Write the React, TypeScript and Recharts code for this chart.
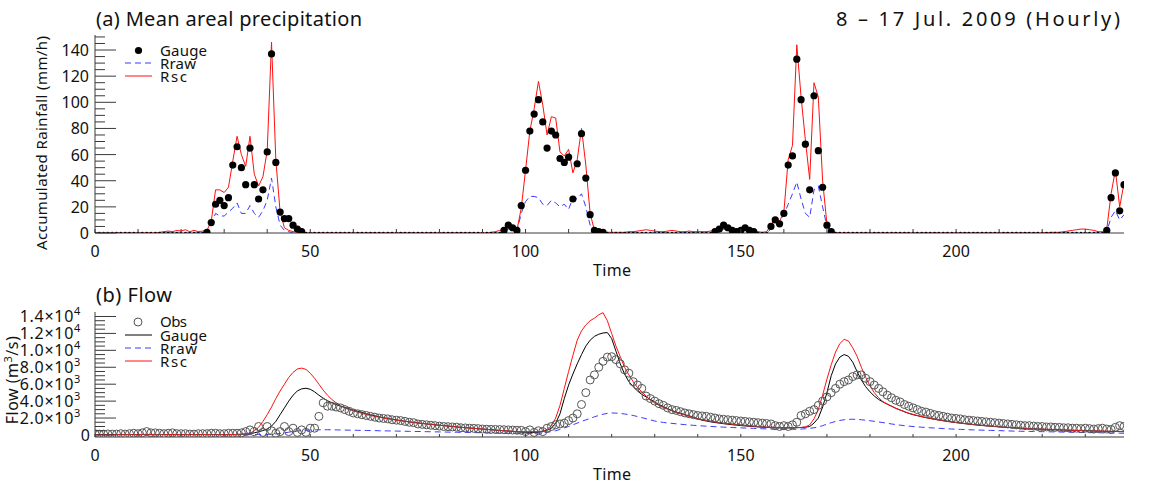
import React from 'react';
import { ComposedChart, Line, Scatter, XAxis, YAxis } from 'recharts';

const FONT = '"Noto Sans", "DejaVu Sans", sans-serif';
const AXIS = '#3a3a3a';

// hourly time index, 8 Jul 00h .. 17 Jul 23h
const hours: number[] = Array.from({ length: 240 }, (_, i) => i);

// (a) mean areal precipitation (mm/h)
const rainGauge = [
  0, 0, 0, 0, 0, 0, 0, 0, 0, 0,
  0, 0, 0, 0, 0, 0, 0, 0, 0, 0,
  0, 0, 0, 0, 0, 0, 0.5, 8, 22, 25,
  21, 27, 52, 66, 50, 37, 65, 37, 26, 33,
  62, 137, 54, 16, 11, 11, 6, 3, 1, 0,
  0, 0, 0, 0, 0, 0, 0, 0, 0, 0,
  0, 0, 0, 0, 0, 0, 0, 0, 0, 0,
  0, 0, 0, 0, 0, 0, 0, 0, 0, 0,
  0, 0, 0, 0, 0, 0, 0, 0, 0, 0,
  0, 0, 0, 0, 0, 2, 6, 4, 2, 21,
  48, 78, 91, 102, 85, 65, 78, 75, 57, 54,
  58, 26, 53, 76, 42, 14, 2, 1, 0.5, 0,
  0, 0, 0, 0, 0, 0, 0, 0, 0, 0,
  0, 0, 0, 0, 0, 0, 0, 0, 0, 0,
  0, 0, 0, 0, 1, 3, 6, 4, 2, 1,
  2, 4, 2, 1, 0, 0, 0, 5, 10, 7,
  15, 52, 59, 133, 102, 68, 33, 105, 63, 35,
  6, 1, 0, 0, 0, 0, 0, 0, 0, 0,
  0, 0, 0, 0, 0, 0, 0, 0, 0, 0,
  0, 0, 0, 0, 0, 0, 0, 0, 0, 0,
  0, 0, 0, 0, 0, 0, 0, 0, 0, 0,
  0, 0, 0, 0, 0, 0, 0, 0, 0, 0,
  0, 0, 0, 0, 0, 0, 0, 0, 0, 0,
  0, 0, 0, 0, 0, 2, 27, 46, 17, 37,
];

const rainRraw = [
  0, 0, 0, 0, 0, 0, 0, 0, 0, 0,
  0, 0, 0, 0, 0, 0, 0, 0, 0, 0,
  0, 0, 0, 0, 0, 0, 0.5, 7, 15, 13,
  13, 16, 19, 23, 15, 15, 21, 15, 12, 17,
  25, 42, 20, 6, 2, 1, 0, 0, 0, 0,
  0, 0, 0, 0, 0, 0, 0, 0, 0, 0,
  0, 0, 0, 0, 0, 0, 0, 0, 0, 0,
  0, 0, 0, 0, 0, 0, 0, 0, 0, 0,
  0, 0, 0, 0, 0, 0, 0, 0, 0, 0,
  0, 0, 0, 0, 0, 1, 3, 2, 1, 15,
  24, 28, 28, 27, 22, 21, 25, 23, 20, 22,
  18, 27, 26, 30, 20, 6, 1, 0, 0, 0,
  0, 0, 0, 0, 0, 0, 0, 0, 0, 0,
  0, 0, 0, 0, 0, 0, 0, 0, 0, 0,
  0, 0, 0, 0, 0.5, 1, 3, 2, 1, 0.5,
  1.5, 2, 1, 0, 0, 0, 0, 3, 6, 8,
  14, 22, 30, 39, 26, 15, 12, 33, 36, 20,
  5, 1, 0, 0, 0, 0, 0, 0, 0, 0,
  0, 0, 0, 0, 0, 0, 0, 0, 0, 0,
  0, 0, 0, 0, 0, 0, 0, 0, 0, 0,
  0, 0, 0, 0, 0, 0, 0, 0, 0, 0,
  0, 0, 0, 0, 0, 0, 0, 0, 0, 0,
  0, 0, 0, 0, 0, 0, 0, 0, 0, 0,
  0, 0, 0, 0, 0, 1, 12, 17, 10, 14,
];

const rainRsc = [
  0, 0, 0, 0, 0, 0, 0, 0, 0, 0,
  0, 0, 0, 0, 0, 0.5, 1, 1.5, 1, 2,
  1.5, 2.5, 1, 2, 1, 1.5, 2, 9, 33, 33,
  31, 35, 55, 74, 60, 51, 74, 45, 36, 43,
  63, 146, 56, 16, 4, 2, 1, 0.5, 0, 0,
  0, 0, 0, 0, 0, 0, 0, 0, 0, 0,
  0, 0, 0, 0, 0, 0, 0, 0, 0, 0,
  0, 0, 0, 0, 0, 0, 0, 0, 0, 0,
  0, 0, 0, 0, 0, 0, 0, 0, 0, 0,
  0, 0, 0.5, 1, 2, 3, 6, 3, 2, 19,
  48, 78, 95, 116, 98, 75, 89, 88, 62, 59,
  64, 46, 56, 80, 52, 15, 2, 1, 0.5, 0.5,
  0.5, 0.5, 0.5, 0.5, 1, 1, 1.5, 2, 2.5, 2,
  1.5, 1, 1, 1.5, 2, 1.5, 1, 1, 1.5, 1,
  1, 1, 1, 1.5, 2, 4, 7, 5, 3, 2,
  3, 5, 2, 1, 1, 0.5, 1, 6, 12, 9,
  16, 56, 67, 144, 104, 71, 41, 115, 104, 40,
  7, 1, 0.5, 0, 0, 0, 0, 0, 0, 0,
  0, 0, 0, 0, 0, 0, 0, 0, 0, 0,
  0, 0, 0, 0, 0, 0, 0, 0, 0, 0,
  0, 0, 0, 0, 0, 0, 0, 0, 0, 0,
  0, 0, 0, 0, 0, 0, 0, 0, 0, 0,
  0, 0, 0.5, 0.5, 0.5, 1, 1.5, 2, 2.5, 3,
  3, 2.5, 2, 1, 1, 3, 30, 48, 20, 38,
];

// (b) flow (m3/s)
const flowObs = [
  150, 100, 100, 120, 100, 100, 150, 100, 150, 200,
  150, 250, 400, 250, 250, 200, 150, 200, 250, 150,
  150, 150, 100, 100, 150, 150, 150, 200, 200, 150,
  150, 200, 200, 200, 250, 400, 600, 400, 1000, 300,
  1000, 500, 200, 400, 1000, 400, 800, 300, 600, 300,
  800, 800, 2200, 3800, 3400, 3400, 3300, 3200, 3000, 2800,
  2600, 2500, 2400, 2300, 2200, 2100, 2000, 1950, 1900, 1800,
  1750, 1700, 1600, 1500, 1450, 1300, 1250, 1200, 1150, 1100,
  1050, 1000, 980, 950, 920, 850, 830, 800, 780, 750,
  700, 680, 660, 650, 640, 620, 600, 580, 560, 550,
  400, 600, 300, 500, 400, 800, 1000, 1200, 1300, 1400,
  1700, 2000, 2500, 3600, 5000, 6500, 7100, 8000, 8700, 9200,
  9250, 8900, 8400, 7700, 7300, 6300, 5900, 5500, 4600, 4300,
  4000, 3700, 3500, 3200, 3000, 2900, 2750, 2600, 2500, 2400,
  2300, 2250, 2200, 2100, 2000, 1900, 1850, 1800, 1750, 1700,
  1650, 1600, 1550, 1500, 1450, 1400, 1350, 1300, 1100, 1000,
  1100, 1000, 1200, 1500, 2300, 2500, 2800, 3000, 3500, 4000,
  4500, 5000, 5500, 6000, 6300, 6500, 6900, 7100, 7100, 6700,
  6300, 5900, 5500, 5100, 4700, 4400, 4100, 3900, 3600, 3400,
  3200, 3000, 2800, 2700, 2550, 2400, 2300, 2200, 2100, 2000,
  1950, 1900, 1800, 1750, 1700, 1650, 1600, 1550, 1500, 1450,
  1400, 1350, 1300, 1250, 1200, 1150, 1100, 1100, 1050, 1000,
  1000, 950, 950, 900, 900, 850, 850, 800, 800, 750,
  800, 750, 700, 750, 800, 700, 650, 900, 1100, 1000,
];

const flowGauge = [
  50, 50, 50, 50, 50, 50, 50, 50, 50, 50,
  50, 50, 50, 50, 50, 50, 50, 50, 50, 50,
  50, 50, 50, 50, 50, 50, 50, 50, 50, 50,
  50, 50, 50, 60, 80, 110, 150, 250, 380, 520,
  700, 1050, 1600, 2400, 3200, 4000, 4700, 5200, 5450, 5520,
  5400, 5100, 4700, 4350, 4050, 3800, 3600, 3420, 3250, 3100,
  2950, 2800, 2650, 2500, 2380, 2260, 2150, 2050, 1950, 1860,
  1780, 1700, 1620, 1550, 1480, 1420, 1360, 1300, 1250, 1200,
  1150, 1100, 1050, 1000, 950, 900, 860, 820, 780, 740,
  700, 660, 620, 580, 540, 500, 460, 420, 380, 340,
  300, 290, 290, 320, 420, 560, 800, 1400, 2500, 4300,
  5900, 7200, 8400, 9500, 10500, 11200, 11650, 11900, 12050, 12100,
  11400, 9900, 8400, 7200, 6300, 5700, 5200, 4800, 4500, 4200,
  3900, 3600, 3350, 3100, 2900, 2700, 2550, 2400, 2250, 2100,
  1900, 1750, 1650, 1550, 1470, 1400, 1330, 1270, 1210, 1160,
  1110, 1070, 1030, 990, 950, 920, 890, 870, 850, 840,
  830, 830, 840, 860, 880, 920, 1000, 1400, 2000, 3300,
  5000, 7000, 8400, 9200, 9500, 9300, 8600, 7500, 6500, 5700,
  5100, 4600, 4200, 3900, 3650, 3400, 3150, 2950, 2750, 2550,
  2400, 2280, 2160, 2050, 1950, 1850, 1760, 1680, 1600, 1530,
  1460, 1400, 1340, 1280, 1220, 1170, 1120, 1080, 1040, 1000,
  960, 920, 890, 860, 830, 800, 770, 740, 720, 700,
  680, 660, 640, 620, 600, 580, 560, 545, 530, 515,
  500, 485, 470, 455, 440, 430, 420, 410, 400, 390,
];

const flowRraw = [
  30, 30, 30, 30, 30, 30, 30, 30, 30, 30,
  30, 30, 30, 30, 30, 30, 30, 30, 30, 30,
  30, 30, 30, 30, 30, 30, 30, 30, 30, 30,
  30, 30, 30, 30, 30, 30, 40, 50, 60, 70,
  80, 100, 130, 180, 250, 330, 410, 470, 510, 550,
  580, 600, 610, 620, 620, 610, 600, 590, 580, 570,
  560, 550, 540, 530, 520, 510, 500, 490, 480, 470,
  460, 450, 440, 430, 420, 410, 400, 390, 380, 370,
  360, 350, 340, 330, 320, 310, 300, 290, 280, 270,
  260, 250, 240, 230, 220, 210, 200, 200, 200, 200,
  210, 210, 220, 240, 270, 320, 390, 500, 650, 830,
  1000, 1200, 1400, 1600, 1780, 1950, 2150, 2300, 2450, 2550,
  2600, 2580, 2550, 2480, 2400, 2300, 2180, 2050, 1920, 1780,
  1650, 1560, 1480, 1420, 1370, 1320, 1270, 1220, 1180, 1140,
  1100, 1070, 1040, 1010, 980, 950, 925, 900, 880, 860,
  840, 820, 800, 780, 760, 740, 720, 700, 690, 680,
  670, 670, 670, 680, 700, 730, 780, 850, 950, 1100,
  1280, 1450, 1600, 1720, 1800, 1850, 1860, 1840, 1800, 1740,
  1680, 1610, 1540, 1460, 1380, 1300, 1230, 1160, 1100, 1050,
  1000, 960, 920, 880, 850, 820, 790, 760, 730, 700,
  680, 660, 640, 620, 600, 585, 570, 555, 540, 525,
  510, 495, 480, 465, 450, 440, 430, 420, 410, 400,
  390, 380, 370, 360, 350, 340, 330, 320, 310, 300,
  290, 280, 270, 260, 250, 240, 230, 220, 210, 200,
];

const flowRsc = [
  50, 50, 50, 50, 50, 50, 50, 50, 50, 50,
  50, 50, 50, 50, 50, 50, 50, 50, 50, 50,
  50, 50, 50, 50, 50, 50, 50, 50, 50, 50,
  50, 50, 50, 60, 80, 120, 200, 500, 900, 1600,
  2400, 3300, 4300, 5200, 6000, 6800, 7400, 7800, 7900, 7750,
  7300, 6700, 6000, 5300, 4700, 4200, 3800, 3450, 3200, 3000,
  2850, 2700, 2550, 2420, 2300, 2190, 2090, 2000, 1910, 1830,
  1750, 1680, 1610, 1540, 1480, 1420, 1360, 1300, 1250, 1200,
  1150, 1100, 1050, 1000, 950, 900, 860, 820, 780, 740,
  700, 660, 620, 580, 540, 500, 470, 440, 410, 400,
  390, 390, 390, 400, 450, 650, 1100, 2000, 3500, 5500,
  7500, 9400, 11200, 12300, 13000, 13500, 13800, 14200, 14450, 13500,
  12000, 10500, 9250, 8000, 7100, 6300, 5600, 5100, 4600, 4100,
  3800, 3500, 3250, 3050, 2850, 2650, 2500, 2350, 2200, 2050,
  1900, 1800, 1700, 1610, 1530, 1460, 1390, 1330, 1270, 1220,
  1170, 1120, 1080, 1040, 1000, 970, 940, 920, 900, 880,
  870, 860, 860, 870, 890, 950, 1200, 1900, 3000, 4700,
  6600, 8300, 9800, 10800, 11300, 11100, 10300, 9300, 8000, 6800,
  5800, 5000, 4400, 3950, 3650, 3400, 3150, 2950, 2750, 2580,
  2430, 2300, 2170, 2060, 1960, 1860, 1770, 1690, 1610, 1540,
  1470, 1410, 1350, 1290, 1230, 1180, 1130, 1090, 1050, 1010,
  970, 930, 900, 870, 840, 810, 780, 750, 730, 710,
  690, 670, 650, 630, 610, 590, 570, 555, 540, 525,
  510, 495, 480, 465, 450, 440, 430, 420, 410, 400,
];

// axis ticks and labels
const xTicks = [0, 10, 20, 30, 40, 50, 60, 70, 80, 90, 100, 110, 120, 130, 140, 150, 160, 170, 180, 190, 200, 210, 220, 230];
const xLabels = [0, 50, 100, 150, 200];
const rainMajor = [0, 20, 40, 60, 80, 100, 120, 140];
const rainTicks = Array.from({ length: 31 }, (_, i) => i * 5);
const flowMajor = [0, 2000, 4000, 6000, 8000, 10000, 12000, 14000];
const flowMantissa = ['0', '2.0', '4.0', '6.0', '8.0', '1.0', '1.2', '1.4'];
const flowExponent = ['', '3', '3', '3', '3', '4', '4', '4'];
const flowTicks = Array.from({ length: 29 }, (_, i) => i * 500);

const RAIN_DOMAIN: [number, number] = [0, 151.5];
const FLOW_DOMAIN: [number, number] = [-240, 14530];

const rainData = hours.map((t, i) => ({ t, gauge: rainGauge[i], rraw: rainRraw[i], rsc: rainRsc[i] }));
const flowData = hours.map((t, i) => ({ t, obs: flowObs[i], gauge: flowGauge[i], rraw: flowRraw[i], rsc: flowRsc[i] }));

const RED = '#ff1010';
const BLUE = '#3a3aff';

function RainLeftTick(props: any) {
  const { x, y, payload } = props;
  const v = payload.value;
  const major = rainMajor.includes(v);
  return (
    <g>
      <line x1={x} y1={y} x2={x + (major ? 21 : 10)} y2={y} stroke={AXIS} strokeWidth={1} />
      {major && (
        <text x={x - 6} y={y + 6} textAnchor="end" fontSize={16} fontFamily={FONT} fill="#111">{v}</text>
      )}
    </g>
  );
}

function RainRightTick(props: any) {
  const { x, y, payload } = props;
  const major = rainMajor.includes(payload.value);
  return <line x1={x} y1={y} x2={x - (major ? 21 : 10)} y2={y} stroke={AXIS} strokeWidth={1} />;
}

function FlowLeftTick(props: any) {
  const { x, y, payload } = props;
  const idx = flowMajor.indexOf(payload.value);
  const major = idx >= 0;
  return (
    <g>
      <line x1={x} y1={y} x2={x + (major ? 21 : 10)} y2={y} stroke={AXIS} strokeWidth={1} />
      {major && idx === 0 && (
        <text x={x - 5} y={y + 6} textAnchor="end" fontSize={16} fontFamily={FONT} fill="#111">{flowMantissa[idx]}</text>
      )}
      {major && idx > 0 && (
        <text x={x - 14} y={y + 6} textAnchor="end" fontSize={16} fontFamily={FONT} fill="#111" letterSpacing={0.7}>
          {flowMantissa[idx]}×10<tspan dy={-7} fontSize={11}>{flowExponent[idx]}</tspan>
        </text>
      )}
    </g>
  );
}

function FlowRightTick(props: any) {
  const { x, y, payload } = props;
  const major = flowMajor.includes(payload.value);
  return <line x1={x} y1={y} x2={x - (major ? 21 : 10)} y2={y} stroke={AXIS} strokeWidth={1} />;
}

const makeBottomTick = (len: number) => (props: any) => {
  const { x, y, payload } = props;
  const v = payload.value;
  return (
    <g>
      <line x1={x} y1={y} x2={x} y2={y - len} stroke={AXIS} strokeWidth={1} />
      {xLabels.includes(v) && (
        <text x={x} y={y + 24} textAnchor="middle" fontSize={16} fontFamily={FONT} fill="#111">{v}</text>
      )}
    </g>
  );
};

const makeTopTick = (len: number) => (props: any) => {
  const { x, y } = props;
  return <line x1={x} y1={y} x2={x} y2={y + len} stroke={AXIS} strokeWidth={1} />;
};

const RainBottomTick = makeBottomTick(4);
const RainTopTick = makeTopTick(4);
const FlowBottomTick = makeBottomTick(3);
const FlowTopTick = makeTopTick(3);

function GaugeDot(props: any) {
  const { cx, cy, payload } = props;
  if (cx == null || cy == null) return <g />;
  const r = payload && payload.gauge > 0.3 ? 3.6 : 1.3;
  return <circle cx={cx} cy={cy} r={r} fill="#000" />;
}

function ObsCircle(props: any) {
  const { cx, cy } = props;
  if (cx == null || cy == null) return <g />;
  return <circle cx={cx} cy={cy} r={4} fill="none" stroke="#555" strokeWidth={1} />;
}

export default function App() {
  return (
    <div style={{ position: 'absolute', left: 0, top: 0, width: 1154, height: 499, background: '#fff' }}>
      <div style={{ position: 'absolute', left: 0, top: 0 }}>
        <ComposedChart width={1154} height={280} data={rainData} margin={{ top: 35, right: 30, bottom: 27, left: 35 }}>
          <XAxis dataKey="t" type="number" domain={[0, 239]} allowDataOverflow ticks={xTicks} interval={0}
            tickSize={0} tickMargin={0} height={20} tickLine={false} axisLine={{ stroke: AXIS }} tick={RainBottomTick} />
          <XAxis xAxisId="top" orientation="top" dataKey="t" type="number" domain={[0, 239]} allowDataOverflow ticks={xTicks}
            interval={0} tickSize={0} tickMargin={0} height={0} tickLine={false} axisLine={{ stroke: AXIS }} tick={RainTopTick} />
          <YAxis type="number" domain={RAIN_DOMAIN} allowDataOverflow ticks={rainTicks} interval={0} tickSize={0}
            tickMargin={0} width={60} tickLine={false} axisLine={{ stroke: AXIS }} tick={RainLeftTick} />
          <YAxis yAxisId="right" orientation="right" type="number" domain={RAIN_DOMAIN} allowDataOverflow ticks={rainTicks}
            interval={0} tickSize={0} tickMargin={0} width={0} tickLine={false} axisLine={{ stroke: AXIS }} tick={RainRightTick} />
          <Scatter dataKey="gauge" isAnimationActive={false} shape={GaugeDot} />
          <Line dataKey="rraw" type="linear" stroke={BLUE} strokeWidth={1} strokeDasharray="6 4" dot={false} isAnimationActive={false} />
          <Line dataKey="rsc" type="linear" stroke={RED} strokeWidth={1} dot={false} isAnimationActive={false} />
        </ComposedChart>
      </div>
      <div style={{ position: 'absolute', left: 0, top: 280 }}>
        <ComposedChart width={1154} height={219} data={flowData} margin={{ top: 32, right: 30, bottom: 42, left: 35 }}>
          <XAxis dataKey="t" type="number" domain={[0, 239]} allowDataOverflow ticks={xTicks} interval={0}
            tickSize={0} tickMargin={0} height={20} tickLine={false} axisLine={{ stroke: AXIS }} tick={FlowBottomTick} />
          <XAxis xAxisId="top" orientation="top" dataKey="t" type="number" domain={[0, 239]} allowDataOverflow ticks={xTicks}
            interval={0} tickSize={0} tickMargin={0} height={0} tickLine={false} axisLine={{ stroke: AXIS }} tick={FlowTopTick} />
          <YAxis type="number" domain={FLOW_DOMAIN} allowDataOverflow ticks={flowTicks} interval={0} tickSize={0}
            tickMargin={0} width={60} tickLine={false} axisLine={{ stroke: AXIS }} tick={FlowLeftTick} />
          <YAxis yAxisId="right" orientation="right" type="number" domain={FLOW_DOMAIN} allowDataOverflow ticks={flowTicks}
            interval={0} tickSize={0} tickMargin={0} width={0} tickLine={false} axisLine={{ stroke: AXIS }} tick={FlowRightTick} />
          <Scatter dataKey="obs" isAnimationActive={false} shape={ObsCircle} />
          <Line dataKey="gauge" type="linear" stroke="#000" strokeWidth={1} dot={false} isAnimationActive={false} />
          <Line dataKey="rraw" type="linear" stroke={BLUE} strokeWidth={1} strokeDasharray="6 4" dot={false} isAnimationActive={false} />
          <Line dataKey="rsc" type="linear" stroke={RED} strokeWidth={1} dot={false} isAnimationActive={false} />
        </ComposedChart>
      </div>
      <svg width={1154} height={499} style={{ position: 'absolute', left: 0, top: 0, pointerEvents: 'none' }} fontFamily={FONT} fill="#111">
        <text x={96} y={26} fontSize={20} textLength={266} lengthAdjust="spacing">(a) Mean areal precipitation</text>
        <text x={836} y={26} fontSize={20} textLength={284} lengthAdjust="spacing">8 – 17 Jul. 2009 (Hourly)</text>
        <text x={96} y={302} fontSize={20} textLength={76} lengthAdjust="spacing">(b) Flow</text>
        <text x={593} y={276} fontSize={16} textLength={38} lengthAdjust="spacing">Time</text>
        <text x={593} y={480} fontSize={16} textLength={38} lengthAdjust="spacing">Time</text>
        <text transform="translate(47,250) rotate(-90)" fontSize={15} textLength={214} lengthAdjust="spacing">Accumulated Rainfall (mm/h)</text>
        <text transform="translate(18,380) rotate(-90)" fontSize={16} textAnchor="middle" letterSpacing={0.5}>
          Flow (m<tspan dy={-6} fontSize={11}>3</tspan><tspan dy={6}>/s)</tspan>
        </text>
        {/* legend (a) */}
        <circle cx={138.5} cy={50.5} r={3.6} fill="#000" />
        <text x={160} y={55.5} fontSize={15} textLength={47} lengthAdjust="spacing">Gauge</text>
        <line x1={125} y1={63} x2={152} y2={63} stroke={BLUE} strokeDasharray="6 4" />
        <text x={160} y={68.5} fontSize={15} textLength={36} lengthAdjust="spacing">Rraw</text>
        <line x1={125} y1={76} x2={152} y2={76} stroke={RED} />
        <text x={160} y={81.5} fontSize={15} textLength={27} lengthAdjust="spacing">Rsc</text>
        {/* legend (b) */}
        <circle cx={138} cy={322} r={4} fill="none" stroke="#555" />
        <text x={160} y={327} fontSize={15} textLength={27} lengthAdjust="spacing">Obs</text>
        <line x1={125} y1={335} x2={152} y2={335} stroke="#000" />
        <text x={160} y={340.5} fontSize={15} textLength={47} lengthAdjust="spacing">Gauge</text>
        <line x1={125} y1={348} x2={152} y2={348} stroke={BLUE} strokeDasharray="6 4" />
        <text x={160} y={353.5} fontSize={15} textLength={37} lengthAdjust="spacing">Rraw</text>
        <line x1={125} y1={361} x2={152} y2={361} stroke={RED} />
        <text x={160} y={366.5} fontSize={15} textLength={27} lengthAdjust="spacing">Rsc</text>
      </svg>
    </div>
  );
}
